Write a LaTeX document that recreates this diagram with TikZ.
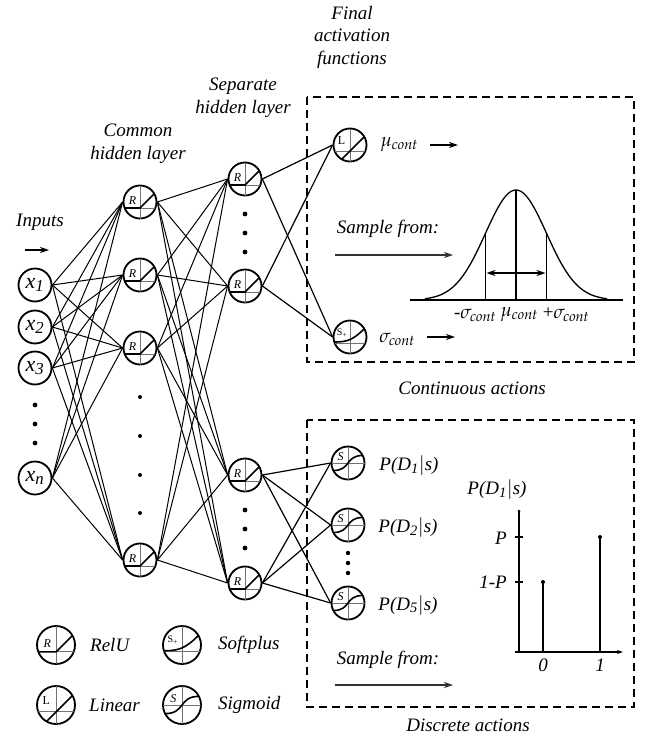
\documentclass[tikz,border=0pt]{standalone}
\usepackage{mathpazo}
\usepackage{fontspec}
\setmainfont{Liberation Serif}
\usetikzlibrary{arrows.meta}
\tikzset{
 neuron/.style={circle, draw, line width=1.8pt, minimum size=33pt, inner sep=0pt, fill=white},
 legneuron/.style={neuron, minimum size=38pt},
 conn/.style={line width=1pt},
 axisln/.style={line width=1pt, black!55},
 func/.style={line width=1.6pt, black},
 lbl/.style={font=\fontsize{19}{22.5}\selectfont\itshape, inner sep=0pt, align=center},
 inlbl/.style={font=\fontsize{22}{22}\selectfont\itshape},
 iconlbl/.style={font=\fontsize{12}{12}\selectfont, inner sep=0pt},
 smalldot/.style={circle, fill=black, inner sep=0pt, minimum size=4.8pt},
 dbox/.style={line width=1.3pt, dash pattern=on 8pt off 5pt},
 arr/.style={line width=1.2pt, -{Stealth[length=9pt,width=6pt]}},
 garr/.style={line width=1.2pt, black!80, -{Stealth[length=9pt,width=6pt]}},
}
\newcommand\iconR[2]{\begin{scope}[shift={(#1)},scale=#2]
 \draw[axisln] (0,-16.5) -- (0,16.5) (-15.4,6) -- (15.4,6);
 \draw[func] (-15.4,6) -- (0,6) -- (14.3,-8.3);
 \node[iconlbl, font=\fontsize{12}{12}\selectfont\itshape] (#1-lab) at (-7.5,-1) {R};
\end{scope}}
\newcommand\iconL[2]{\begin{scope}[shift={(#1)},scale=#2]
 \draw[axisln] (0,-16.5) -- (0,16.5) (-15.4,6) -- (15.4,6);
 \draw[func] (-8.25,14.25) -- (14.3,-8.3);
 \node[iconlbl] (#1-lab) at (-8.5,-4) {L};
\end{scope}}
\newcommand\iconSp[2]{\begin{scope}[shift={(#1)},scale=#2]
 \draw[axisln] (0,-16.5) -- (0,16.5) (-15.4,6) -- (15.4,6);
 \draw[func] (-15.4,5) .. controls (-3,5) and (3,3) .. (14.3,-8.3);
 \node[iconlbl, font=\fontsize{10}{10}\selectfont] (#1-lab) at (-8,-4) {S\textsubscript{+}};
\end{scope}}
\newcommand\iconS[2]{\begin{scope}[shift={(#1)},scale=#2]
 \draw[axisln] (0,-16.5) -- (0,16.5) (-16.5,0) -- (16.5,0);
 \draw[func] (-14.6,7.5) .. controls (3,7.5) and (-3,-7.5) .. (14.6,-7.5);
 \node[iconlbl, font=\fontsize{12}{12}\selectfont\itshape] (#1-lab) at (-7.5,-6) {S};
\end{scope}}

\begin{document}
\begin{tikzpicture}[x=1pt, y=-1pt]
\useasboundingbox (0,0) rectangle (651,739);

% ---------- nodes ----------
\node[neuron, inlbl] (x1) at (35,285) {x\textsubscript{1}};
\node[neuron, inlbl] (x2) at (35,327) {x\textsubscript{2}};
\node[neuron, inlbl] (x3) at (35,368) {x\textsubscript{3}};
\node[neuron, inlbl] (xn) at (35,478) {x\textsubscript{n}};
\foreach \y [count=\i] in {405,424,443} \node[smalldot] (xd\i) at (35,\y) {};

\node[neuron] (h1) at (140,202) {};
\node[neuron] (h2) at (140,275) {};
\node[neuron] (h3) at (140,348) {};
\node[neuron] (h4) at (140,560) {};
\foreach \y [count=\i] in {397,436,475,513} \node[smalldot, minimum size=4pt] (hd\i) at (140,\y) {};

\node[neuron] (s1) at (245,179) {};
\node[neuron] (s2) at (245,286) {};
\node[neuron] (s3) at (245,475) {};
\node[neuron] (s4) at (245,583) {};
\foreach \y [count=\i] in {214,233,252} \node[smalldot] (sa\i) at (245,\y) {};
\foreach \y [count=\i] in {510,529,548} \node[smalldot] (sb\i) at (245,\y) {};

\node[neuron] (fL) at (350,145) {};
\node[neuron] (fSp) at (350,337) {};
\node[neuron] (d1) at (348,463) {};
\node[neuron] (d2) at (348,525) {};
\node[neuron] (d5) at (348,603) {};
\foreach \y [count=\i] in {553,563,573} \node[smalldot, minimum size=4.4pt] (dd\i) at (348,\y) {};

\foreach \n in {h1,h2,h3,h4,s1,s2,s3,s4} {\iconR{\n}{1}}
\iconL{fL}{1}
\iconSp{fSp}{1}
\foreach \n in {d1,d2,d5} {\iconS{\n}{1}}

% ---------- connections ----------
\foreach \a in {x1,x2,x3,xn} \foreach \b in {h1,h2,h3,h4} \draw[conn] (\a.east) -- (\b.west);
\foreach \a in {h1,h2,h3,h4} \foreach \b in {s1,s2,s3,s4} \draw[conn] (\a.east) -- (\b.west);
\foreach \a in {s1,s2} \foreach \b in {fL,fSp} \draw[conn, line width=1.2pt] (\a.east) -- (\b.west);
\foreach \a in {s3,s4} \foreach \b in {d1,d2,d5} \draw[conn, line width=1.2pt] (\a.east) -- (\b.west);

% ---------- headings ----------
\node[lbl] (inputs) at (40,222) {Inputs};
\coordinate (ia) at (25,250); \coordinate (ib) at (49,250);
\draw[arr] (ia) -- (ib);
\node[lbl] (common) at (138,144) {Common\\hidden layer};
\node[lbl] (separate) at (243,98) {Separate\\hidden layer};
\node[lbl] (final) at (352,37) {Final\\activation\\functions};

% ---------- continuous box ----------
\draw[dbox] (307,97) rectangle (634,362);
\node[lbl, font=\fontsize{19}{22}\selectfont] (mu) at (399,145) {$\mu_{\mathit{cont}}$};
\coordinate (mua) at (430,145); \coordinate (mub) at (458,145);
\draw[arr] (mua) -- (mub);
\node[lbl, font=\fontsize{19}{22}\selectfont] (sig) at (397,339) {$\sigma_{\mathit{cont}}$};
\coordinate (siga) at (427,337); \coordinate (sigb) at (455,337);
\draw[arr] (siga) -- (sigb);
\node[lbl] (samp1) at (388,229) {Sample from:};
\coordinate (s1a) at (335,255); \coordinate (s1b) at (453,255);
\draw[garr] (s1a) -- (s1b);

% gaussian
\draw[line width=1.3pt] (410,300) -- (623,300);
\draw[line width=1.3pt, domain=-91:91, samples=90, smooth] plot ({516+\x},{300-110*exp(-(\x*\x)/1860.5)});
\draw[line width=1.3pt] (516,300) -- (516,190);
\draw[line width=1.3pt] (485.5,300) -- (485.5,233.3);
\draw[line width=1.3pt] (546.5,300) -- (546.5,233.3);
\draw[line width=1.3pt, {Stealth[length=9pt,width=6pt]}-{Stealth[length=9pt,width=6pt]}] (486.5,273) -- (545.5,273);
\node[lbl, font=\fontsize{19}{22}\selectfont] (gm) at (475,315) {-$\sigma_{\mathit{cont}}$};
\node[lbl, font=\fontsize{19}{22}\selectfont] (gc) at (519,315) {$\mu_{\mathit{cont}}$};
\node[lbl, font=\fontsize{19}{22}\selectfont] (gp) at (566,315) {+$\sigma_{\mathit{cont}}$};
\node[lbl] (contact) at (472,388) {Continuous actions};

% ---------- discrete box ----------
\draw[dbox] (307,420) rectangle (634,707);
\node[lbl] (p1) at (409,465) {P(D\textsubscript{1}$|$s)};
\node[lbl] (p2) at (408,527) {P(D\textsubscript{2}$|$s)};
\node[lbl] (p5) at (408,605) {P(D\textsubscript{5}$|$s)};
\node[lbl] (ptitle) at (497,489) {P(D\textsubscript{1}$|$s)};

\draw[line width=1.3pt] (519,652) -- (519,511);
\fill (519,511) circle (1.5pt);
\draw[line width=1.3pt, -{Stealth[length=6pt,width=4pt]}] (515,652) -- (623,652);
\draw[line width=1.3pt] (515,537) -- (523,537) (515,582) -- (523,582);
\node[lbl, anchor=east] (lp) at (507,538) {P};
\node[lbl, anchor=east] (l1p) at (507,582) {1-P};
\draw[line width=1.5pt] (543,652) -- (543,582);
\fill (543,582) circle (2pt);
\draw[line width=1.5pt] (600,652) -- (600,537);
\fill (600,537) circle (2pt);
\node[lbl] (t0) at (543,665) {0};
\node[lbl] (t1) at (600,665) {1};

\node[lbl] (samp2) at (388,660) {Sample from:};
\coordinate (s2a) at (335,685); \coordinate (s2b) at (453,685);
\draw[garr] (s2a) -- (s2b);
\node[lbl] (discact) at (468,725) {Discrete actions};

% ---------- legend ----------
\node[legneuron] (legR) at (56,645) {};
\iconR{legR}{1.15}
\node[lbl, anchor=west] (legRt) at (90,645) {RelU};
\node[legneuron] (legSp) at (182,645) {};
\iconSp{legSp}{1.15}
\node[lbl, anchor=west] (legSpt) at (218,645) {Softplus};
\node[legneuron] (legL) at (56,705) {};
\iconL{legL}{1.15}
\node[lbl, anchor=west] (legLt) at (89,705) {Linear};
\node[legneuron] (legS) at (182,705) {};
\iconS{legS}{1.15}
\node[lbl, anchor=west] (legSt) at (218,705) {Sigmoid};
\end{tikzpicture}
\end{document}
